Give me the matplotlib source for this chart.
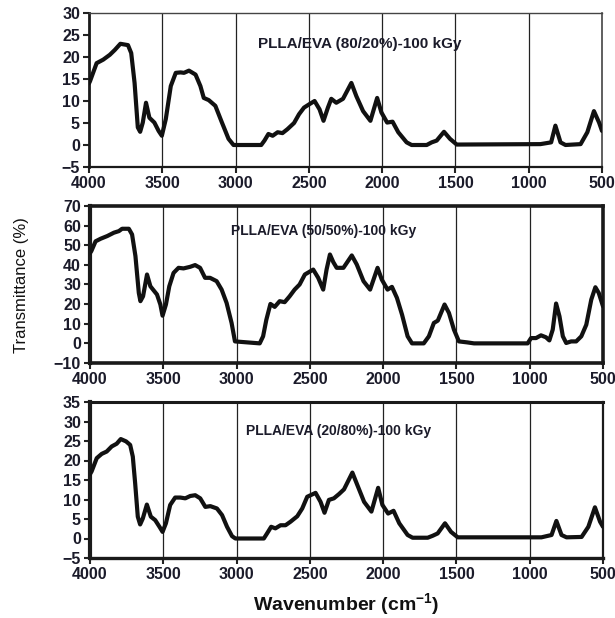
import matplotlib
matplotlib.use("Agg")
import matplotlib.pyplot as plt
import numpy as np

plt.rcParams['font.family'] = ['Liberation Sans', 'DejaVu Sans']
plt.rcParams['mathtext.fontset'] = 'custom'
plt.rcParams['mathtext.rm'] = 'Liberation Sans'
plt.rcParams['mathtext.bf'] = 'Liberation Sans:bold'

# ---- data: panel 1 (80/20) ----
wn1 = [4000, 3993, 3948, 3903, 3858, 3824, 3786, 3734, 3712, 3689, 3667, 3651, 3633, 3611, 3588,
       3554, 3525, 3503, 3476, 3442, 3408, 3375, 3352, 3318, 3273, 3240, 3217, 3183, 3138, 3093,
       3048, 3014, 2825, 2803, 2776, 2747, 2713, 2680, 2646, 2601, 2567, 2533, 2500, 2461, 2427,
       2400, 2370, 2347, 2313, 2267, 2210, 2176, 2130, 2080, 2034, 2005, 1966, 1929, 1890, 1833,
       1799, 1696, 1662, 1628, 1578, 1537, 1491, 920, 847, 818, 783, 749, 646, 600, 555, 520, 500]
t1 = [14.0, 14.5, 18.6, 19.4, 20.5, 21.6, 23.0, 22.7, 20.9, 14.1, 4.0, 3.0, 5.1, 9.6, 6.2,
      5.1, 3.2, 2.1, 5.9, 13.4, 16.4, 16.5, 16.4, 16.9, 16.0, 13.4, 10.7, 10.2, 8.9, 5.1,
      1.4, 0.0, 0.0, 1.0, 2.5, 2.1, 2.9, 2.7, 3.6, 5.0, 7.0, 8.5, 9.2, 10.0, 8.1,
      5.5, 8.5, 10.5, 9.6, 10.5, 14.1, 11.1, 7.7, 5.5, 10.7, 7.4, 5.1, 5.3, 2.9, 0.6,
      0.0, 0.0, 0.6, 1.0, 3.0, 1.4, 0.1, 0.2, 0.6, 4.4, 0.6, 0.0, 0.2, 2.9, 7.7, 5.1, 3.2]

# ---- data: panel 2 (50/50) ----
wn2 = [4000, 3991, 3962, 3928, 3882, 3837, 3803, 3781, 3735, 3713, 3690, 3667, 3656, 3638, 3611,
       3588, 3570, 3543, 3520, 3505, 3482, 3459, 3430, 3396, 3362, 3317, 3283, 3249, 3215, 3181,
       3136, 3102, 3068, 3034, 3011, 2842, 2819, 2797, 2769, 2740, 2706, 2672, 2638, 2604, 2570,
       2534, 2477, 2443, 2409, 2386, 2363, 2340, 2317, 2271, 2214, 2180, 2134, 2089, 2038, 2009,
       1970, 1940, 1906, 1871, 1833, 1803, 1723, 1688, 1654, 1627, 1581, 1551, 1517, 1483, 1426,
       1380, 1014, 991, 957, 923, 889, 866, 843, 820, 797, 774, 751, 717, 683, 648,
       614, 580, 552, 529, 500]
t2 = [46.0, 47.0, 52.0, 53.3, 54.7, 56.4, 57.2, 58.4, 58.4, 55.5, 44.5, 25.7, 21.5, 24.0, 35.1,
      29.1, 27.4, 24.9, 19.8, 14.1, 19.8, 29.1, 35.9, 38.5, 38.2, 39.0, 39.9, 38.5, 33.4, 33.4,
      31.7, 27.4, 20.6, 10.4, 1.0, 0.0, 3.6, 12.0, 20.1, 18.6, 21.5, 21.0, 24.0, 27.4, 30.0,
      35.1, 37.6, 33.4, 27.4, 37.6, 45.3, 41.4, 38.5, 38.5, 44.8, 40.2, 31.7, 27.4, 38.5, 32.5,
      27.4, 28.8, 23.2, 14.6, 3.6, 0.0, 0.0, 3.6, 10.4, 11.6, 19.8, 15.5, 7.0, 1.0, 0.5,
      0.0, 0.0, 2.7, 2.7, 4.1, 3.1, 1.5, 7.0, 20.3, 13.8, 3.6, 0.2, 1.0, 1.0, 3.6,
      9.5, 22.3, 28.6, 25.7, 18.9]

# ---- data: panel 3 (20/80) ----
wn3 = [4000, 3989, 3954, 3920, 3886, 3852, 3818, 3790, 3754, 3726, 3708, 3692, 3674, 3658, 3640,
       3612, 3585, 3555, 3526, 3505, 3482, 3453, 3419, 3384, 3350, 3316, 3282, 3248, 3213, 3179,
       3134, 3099, 3065, 3031, 3008, 2814, 2792, 2764, 2735, 2700, 2666, 2632, 2586, 2552, 2518,
       2461, 2427, 2400, 2370, 2336, 2301, 2267, 2210, 2176, 2130, 2080, 2034, 2005, 1966, 1929,
       1890, 1833, 1799, 1696, 1662, 1628, 1578, 1537, 1491, 920, 851, 818, 783, 749, 646,
       600, 555, 520, 500]
t3 = [16.5, 17.2, 20.6, 21.7, 22.3, 23.6, 24.3, 25.5, 24.9, 24.0, 21.0, 14.2, 5.6, 3.6, 5.1,
      8.7, 5.6, 4.7, 3.0, 1.7, 3.9, 8.6, 10.5, 10.5, 10.3, 10.9, 11.1, 10.3, 8.1, 8.3,
      7.7, 6.0, 3.0, 0.6, 0.0, 0.0, 1.3, 3.0, 2.6, 3.4, 3.4, 4.3, 5.7, 7.7, 10.7,
      11.7, 9.4, 6.6, 9.9, 10.3, 11.4, 12.6, 16.9, 13.7, 9.4, 6.9, 13.0, 8.6, 6.4, 7.1,
      3.9, 0.9, 0.2, 0.2, 0.7, 1.3, 3.9, 1.7, 0.3, 0.3, 0.9, 4.5, 0.9, 0.3, 0.4,
      3.0, 8.0, 4.3, 3.0]

labels = ["PLLA/EVA (80/20%)-100 kGy", "PLLA/EVA (50/50%)-100 kGy", "PLLA/EVA (20/80%)-100 kGy"]
ylims = [(-5, 30), (-10, 70), (-5, 35)]
ysteps = [5, 10, 5]
xticks = [4000, 3500, 3000, 2500, 2000, 1500, 1000, 500]
grid_x = [3500, 3000, 2500, 2000, 1500, 1000]
label_pos = [(2847, 23.0), (3038, 57.3), (2936, 27.6)]
label_size = [11, 10, 10]

fig = plt.figure(figsize=(6.15, 6.18), dpi=100)
W, H = 615, 618
boxes = [(89, 13, 602, 167), (90, 206, 603, 363), (90, 402, 603, 558)]
spine_w = [
    dict(left=2.0, bottom=1.6, top=1.0, right=1.2),
    dict(left=3.0, bottom=2.6, top=2.6, right=2.6),
    dict(left=3.0, bottom=2.4, top=2.2, right=1.6),
]
tick_color = '#1b1b2a'
for i, (wn, tv) in enumerate([(wn1, t1), (wn2, t2), (wn3, t3)]):
    l, t, r, b = boxes[i]
    ax = fig.add_axes([l / W, 1 - b / H, (r - l) / W, (b - t) / H])
    for gx in grid_x:
        ax.axvline(gx, color='#222222', lw=0.9, zorder=1)
    ax.plot(wn, tv, color='#111111', lw=3.0, solid_joinstyle='round', solid_capstyle='round', zorder=3)
    ax.set_xlim(4000, 500)
    ax.set_ylim(*ylims[i])
    ax.set_xticks(xticks)
    ax.set_yticks(np.arange(ylims[i][0], ylims[i][1] + 0.1, ysteps[i]))
    ax.tick_params(axis='both', direction='out', length=4, width=1.5, colors='#222222',
                   labelsize=11.5, labelcolor=tick_color, pad=2.5)
    for lab in ax.get_xticklabels() + ax.get_yticklabels():
        lab.set_fontweight('bold')
    for s, w in spine_w[i].items():
        ax.spines[s].set_linewidth(w)
        ax.spines[s].set_color('#1a1a1a' if w > 1.3 else '#444444')
    ax.text(label_pos[i][0], label_pos[i][1], labels[i], fontsize=label_size[i], fontweight='bold',
            color='#1b1b2a', ha='left', va='center', zorder=4)

fig.text(22 / W, 1 - 285 / H, "Transmittance (%)", rotation=90, ha='center', va='center',
         fontsize=12, color='#111111')
fig.text(346 / W, 1 - 605 / H, r"Wavenumber (cm$^{\mathbf{-1}}$)", ha='center', va='center',
         fontsize=14, fontweight='bold', color='#111111')

fig.savefig("out.png", dpi=100)
